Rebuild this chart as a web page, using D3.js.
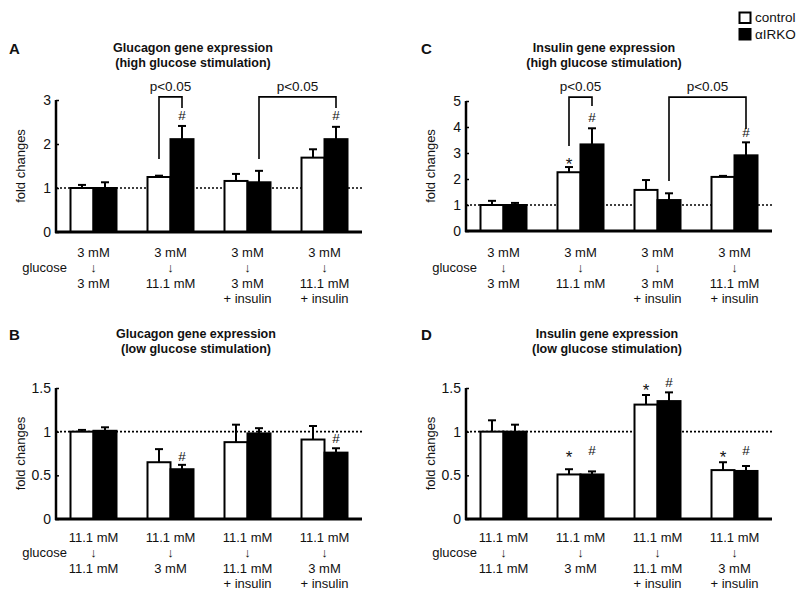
<!DOCTYPE html>
<html><head><meta charset="utf-8">
<script src="https://cdn.jsdelivr.net/npm/d3@7"></script>
<style>
body{margin:0;background:#fff;}
text{font-family:"Liberation Sans",Arial,sans-serif;fill:#111;}
</style></head>
<body><svg id="c" width="800" height="602"></svg>
<script>
// ---------- data ----------
const groups = ["g1","g2","g3","g4"];
const seriesNames = ["control","αIRKO"];

// A: Glucagon, high glucose stimulation
const glucagonHighControl = [1.0, 1.25, 1.16, 1.69];
const glucagonHighControlErr = [0.07, 0.03, 0.16, 0.19];
const glucagonHighKO = [1.0, 2.11, 1.13, 2.11];
const glucagonHighKOErr = [0.13, 0.30, 0.26, 0.28];

// C: Insulin, high glucose stimulation
const insulinHighControl = [1.0, 2.26, 1.58, 2.08];
const insulinHighControlErr = [0.16, 0.20, 0.38, 0.04];
const insulinHighKO = [1.0, 3.33, 1.19, 2.91];
const insulinHighKOErr = [0.08, 0.62, 0.26, 0.50];

// B: Glucagon, low glucose stimulation
const glucagonLowControl = [1.0, 0.65, 0.88, 0.91];
const glucagonLowControlErr = [0.02, 0.15, 0.20, 0.155];
const glucagonLowKO = [1.01, 0.57, 0.98, 0.76];
const glucagonLowKOErr = [0.04, 0.05, 0.06, 0.05];

// D: Insulin, low glucose stimulation
const insulinLowControl = [1.0, 0.51, 1.31, 0.56];
const insulinLowControlErr = [0.13, 0.06, 0.11, 0.09];
const insulinLowKO = [1.0, 0.51, 1.35, 0.55];
const insulinLowKOErr = [0.08, 0.035, 0.10, 0.057];

const ticksHigh3 = [0,1,2,3];
const ticksHigh5 = [0,1,2,3,4,5];
const ticksLow = [0,0.5,1,1.5];
const tickLabelsLow = ["0","0.5","1","1.5"];

const topLine1 = ["3 mM","3 mM","3 mM","3 mM"];
const topLine3 = ["3 mM","11.1 mM","3 mM","11.1 mM"];
const lowLine1 = ["11.1 mM","11.1 mM","11.1 mM","11.1 mM"];
const lowLine3 = ["11.1 mM","3 mM","11.1 mM","3 mM"];
const line4 = ["","","+ insulin","+ insulin"];

// significance marks: [group index, series index, symbol, value level]
const marksA = [[1,1,"#",2.66],[3,1,"#",2.66]];
const marksC = [[1,0,"*",2.85],[1,1,"#",4.38],[3,1,"#",3.81]];
const marksB = [[1,1,"#",0.72],[3,1,"#",0.92]];
const marksD = [[1,0,"*",0.79],[1,1,"#",0.79],[2,0,"*",1.56],[2,1,"#",1.56],[3,0,"*",0.79],[3,1,"#",0.79]];
// brackets: [fromGroup, fromSeries, fromLevel, topLevel, toGroup, toSeries, toLevel]
const bracketsA = [[1,0,1.66,3.07,1,1,2.82],[2,1,1.66,3.07,3,1,2.82]];
const bracketsC = [[1,0,3.27,5.15,1,1,4.81],[2,1,1.92,5.15,3,1,3.92]];

// ---------- drawing ----------
const svg = d3.select("#c");

const panels = [
 {letter:"A", title:["Glucagon gene expression","(high glucose stimulation)"], tx:193, ty:48, lx:9, ax:56, zeroY:232, topY:100, max:3,
  ticks:ticksHigh3, tickLabels:ticksHigh3.map(String), ctrl:glucagonHighControl, ctrlE:glucagonHighControlErr, ko:glucagonHighKO, koE:glucagonHighKOErr,
  marks:marksA, brackets:bracketsA, l1:topLine1, l3:topLine3, labY:252},
 {letter:"C", title:["Insulin gene expression","(high glucose stimulation)"], tx:604, ty:48, lx:421, ax:466, zeroY:231, topY:101, max:5,
  ticks:ticksHigh5, tickLabels:ticksHigh5.map(String), ctrl:insulinHighControl, ctrlE:insulinHighControlErr, ko:insulinHighKO, koE:insulinHighKOErr,
  marks:marksC, brackets:bracketsC, l1:topLine1, l3:topLine3, labY:252},
 {letter:"B", title:["Glucagon gene expression","(low glucose stimulation)"], tx:196, ty:334, lx:9, ax:56, zeroY:519, topY:388, max:1.5,
  ticks:ticksLow, tickLabels:tickLabelsLow, ctrl:glucagonLowControl, ctrlE:glucagonLowControlErr, ko:glucagonLowKO, koE:glucagonLowKOErr,
  marks:marksB, brackets:[], l1:lowLine1, l3:lowLine3, labY:537},
 {letter:"D", title:["Insulin gene expression","(low glucose stimulation)"], tx:607, ty:334, lx:421, ax:466, zeroY:519, topY:388, max:1.5,
  ticks:ticksLow, tickLabels:tickLabelsLow, ctrl:insulinLowControl, ctrlE:insulinLowControlErr, ko:insulinLowKO, koE:insulinLowKOErr,
  marks:marksD, brackets:[], l1:lowLine1, l3:lowLine3, labY:537}
];

const axisLen = 306;
const barW = 23;

panels.forEach(p => {
  const g = svg.append("g");
  const y = d3.scaleLinear().domain([0,p.max]).range([p.zeroY,p.topY]);
  const x = d3.scaleBand().domain(groups).range([p.ax-1, p.ax+307]).padding(0);
  const sx = d3.scaleBand().domain(seriesNames).range([-barW, barW]).padding(0);
  const cx = i => x(groups[i]) + x.bandwidth()/2;
  const bx = (i,s) => cx(i) + sx(seriesNames[s]) + barW/2;

  // panel letter & title
  g.append("text").attr("x",p.lx).attr("y",p.ty+6).attr("font-size",15).attr("font-weight","bold").text(p.letter);
  p.title.forEach((t,k)=>{
    g.append("text").attr("x",p.tx).attr("y",p.ty+4+k*15).attr("text-anchor","middle")
     .attr("font-size",12.5).attr("font-weight","bold").text(t);
  });

  // y label
  g.append("text").attr("transform",`translate(${p.ax-31},${(p.zeroY+p.topY)/2}) rotate(-90)`)
   .attr("text-anchor","middle").attr("font-size",13).text("fold changes");

  // dotted reference line at 1
  g.append("line").attr("x1",p.ax).attr("x2",p.ax+axisLen).attr("y1",y(1)).attr("y2",y(1))
   .attr("stroke","#000").attr("stroke-width",1.6).attr("stroke-dasharray","2,2");

  // bars
  const rows = [];
  groups.forEach((gr,i)=>{
    rows.push({i, s:0, v:p.ctrl[i], e:p.ctrlE[i]});
    rows.push({i, s:1, v:p.ko[i], e:p.koE[i]});
  });
  // error bars (upper only)
  rows.forEach(r=>{
    const xc = bx(r.i,r.s);
    g.append("line").attr("x1",xc).attr("x2",xc).attr("y1",y(r.v)).attr("y2",y(r.v+r.e)).attr("stroke","#000").attr("stroke-width",2);
    g.append("line").attr("x1",xc-4).attr("x2",xc+4).attr("y1",y(r.v+r.e)).attr("y2",y(r.v+r.e)).attr("stroke","#000").attr("stroke-width",2);
  });
  g.selectAll("rect.bar").data(rows).join("rect").attr("class","bar")
   .attr("x",r=>cx(r.i)+sx(seriesNames[r.s])).attr("width",barW)
   .attr("y",r=>y(r.v)).attr("height",r=>y(0)-y(r.v))
   .attr("fill",r=>r.s===0?"#fff":"#000").attr("stroke","#000").attr("stroke-width",2);

  // axes
  const ya = d3.axisLeft(y).tickValues(p.ticks).tickFormat((d,k)=>p.tickLabels[k]).tickSize(-3).tickPadding(5);
  const yg = g.append("g").attr("transform",`translate(${p.ax},0)`).call(ya);
  yg.select(".domain").remove();
  yg.selectAll("line").attr("stroke","#000").attr("stroke-width",1.5);
  yg.selectAll("text").attr("font-size",14).attr("font-family","Liberation Sans, Arial, sans-serif").attr("fill","#111");
  g.append("line").attr("x1",p.ax).attr("x2",p.ax).attr("y1",p.topY).attr("y2",p.zeroY+1).attr("stroke","#000").attr("stroke-width",2.5);
  g.append("line").attr("x1",p.ax-1).attr("x2",p.ax+axisLen).attr("y1",p.zeroY).attr("y2",p.zeroY).attr("stroke","#000").attr("stroke-width",3);

  // significance marks
  p.marks.forEach(m=>{
    g.append("text").attr("x",bx(m[0],m[1])).attr("y",y(m[3])).attr("dy",m[2]==="*"?"0.75em":"0.35em")
     .attr("text-anchor","middle").attr("font-size",m[2]==="*"?17:13.5).text(m[2]);
  });
  // brackets
  p.brackets.forEach(b=>{
    const x1 = bx(b[0],b[1]), x2 = bx(b[4],b[5]);
    g.append("path").attr("d",`M${x1},${y(b[2])}V${y(b[3])}H${x2}V${y(b[6])}`)
     .attr("fill","none").attr("stroke","#000").attr("stroke-width",1.6);
    g.append("text").attr("x",(x1+x2)/2).attr("y",y(b[3])-6).attr("text-anchor","middle").attr("font-size",13.5).text("p<0.05");
  });

  // x category labels
  groups.forEach((gr,i)=>{
    const xc = cx(i);
    const lines = [p.l1[i],"↓",p.l3[i],line4[i]];
    lines.forEach((t,k)=>{
      if(!t) return;
      g.append("text").attr("x",xc).attr("y",p.labY+5+k*15.3).attr("text-anchor","middle")
       .attr("font-size",13).text(t);
    });
  });
  g.append("text").attr("x",p.ax+11).attr("y",p.labY+5+15.3).attr("text-anchor","end").attr("font-size",13).text("glucose");
});

// legend
const legendItems = seriesNames;
const lg = svg.append("g");
legendItems.forEach((n,k)=>{
  lg.append("rect").attr("x",739.5).attr("y",12.5+k*16.5).attr("width",11).attr("height",10.5)
    .attr("fill",k===0?"#fff":"#000").attr("stroke","#000").attr("stroke-width",2);
  lg.append("text").attr("x",755).attr("y",22+k*16.5).attr("font-size",13.5).text(n);
});
</script></body></html>
